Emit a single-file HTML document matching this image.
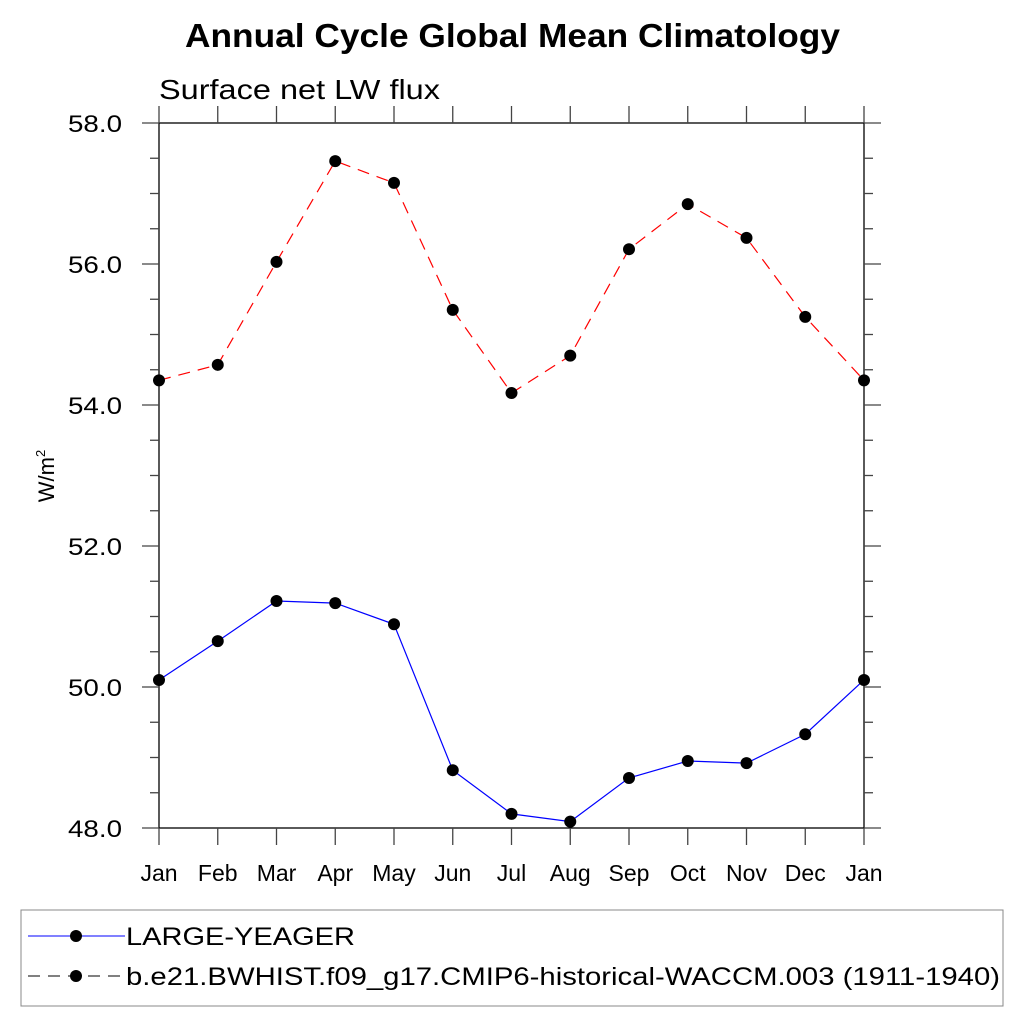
<!DOCTYPE html>
<html><head><meta charset="utf-8"><style>body{margin:0;background:#fff}svg{display:block;font-family:"Liberation Sans",sans-serif}</style></head>
<body>
<svg id="c" width="1024" height="1024">
<text x="185" y="47" textLength="655" lengthAdjust="spacingAndGlyphs" font-size="33" font-weight="bold">Annual Cycle Global Mean Climatology</text>
<text x="159" y="99" textLength="281" lengthAdjust="spacingAndGlyphs" font-size="28">Surface net LW flux</text>
<text transform="translate(54,476) rotate(-90)" text-anchor="middle" font-size="22">W/m<tspan dy="-9" font-size="13">2</tspan></text>
<g id="axes"></g><g id="series"></g>
<rect x="21" y="910" width="982" height="96" fill="none" stroke="#888" stroke-width="1"/>
<g>
<line x1="28" y1="936" x2="125" y2="936" stroke="#00f" stroke-width="1"/>
<circle cx="76" cy="936" r="6"/>
<text x="126" y="945" textLength="229" lengthAdjust="spacingAndGlyphs" font-size="25">LARGE-YEAGER</text></g>
<g>
<line x1="28" y1="976" x2="125" y2="976" stroke="#000" stroke-width="1" stroke-dasharray="12,8"/>
<circle cx="76" cy="976" r="6"/>
<text x="126" y="985" textLength="874" lengthAdjust="spacingAndGlyphs" font-size="25">b.e21.BWHIST.f09_g17.CMIP6-historical-WACCM.003 (1911-1940)</text></g>
</svg>
<script>
const months=["Jan","Feb","Mar","Apr","May","Jun","Jul","Aug","Sep","Oct","Nov","Dec","Jan"];
const largeYeager=[50.10,50.65,51.22,51.19,50.89,48.82,48.20,48.09,48.71,48.95,48.92,49.33,50.10];
const waccm=[54.35,54.57,56.03,57.46,57.15,55.35,54.17,54.70,56.21,56.85,56.37,55.25,54.35];
const yTicks=["48.0","50.0","52.0","54.0","56.0","58.0"];
const L=159,R=864,T=123,B=828,ymin=48,ymax=58;
const X=i=>L+(R-L)*i/(months.length-1);
const Y=v=>B-(B-T)*(v-ymin)/(ymax-ymin);
const ns="http://www.w3.org/2000/svg";
function mk(tag,at,parent){const e=document.createElementNS(ns,tag);for(const k in at)e.setAttribute(k,at[k]);parent.appendChild(e);return e;}
const ax=document.getElementById('axes'),sr=document.getElementById('series');
const fr=mk('rect',{x:L,y:T,width:R-L,height:B-T,fill:'none',stroke:'#000','stroke-width':1.3},ax);


months.forEach((m,i)=>{
  const x=X(i);
  mk('line',{x1:x,y1:B,x2:x,y2:B+17,stroke:'#444','stroke-width':1.3},ax);
  mk('line',{x1:x,y1:T,x2:x,y2:T-17,stroke:'#444','stroke-width':1.3},ax);
  const t=mk('text',{x:x,y:B+53,'text-anchor':'middle','font-size':23},ax);t.textContent=m;
  
  
});
for(let v=ymin;v<=ymax+1e-9;v+=0.5){
  const y=Y(v),major=Math.abs(v-Math.round(v/2)*2)<1e-9,len=major?17:9;
  mk('line',{x1:L,y1:y,x2:L-len,y2:y,stroke:'#444','stroke-width':1.3},ax);
  mk('line',{x1:R,y1:y,x2:R+len,y2:y,stroke:'#444','stroke-width':1.3},ax);
}
yTicks.forEach(s=>{
  const t=mk('text',{x:122,y:Y(parseFloat(s))+9,'text-anchor':'end','font-size':24,textLength:54,lengthAdjust:'spacingAndGlyphs'},ax);t.textContent=s;
  
  
});
function draw(vals,color,dash,name){
  const g=mk('g',{},sr);
  
  
  mk('polyline',{points:vals.map((v,i)=>X(i)+','+Y(v)).join(' '),fill:'none',stroke:color,'stroke-width':1.2,'stroke-dasharray':dash},g);
  vals.forEach((v,i)=>{const c=mk('circle',{cx:X(i),cy:Y(v),r:6},g);
    
    });
}
draw(waccm,'#f00','12,8','series-waccm');
draw(largeYeager,'#00f','none','series-large-yeager');
</script>
</body></html>
